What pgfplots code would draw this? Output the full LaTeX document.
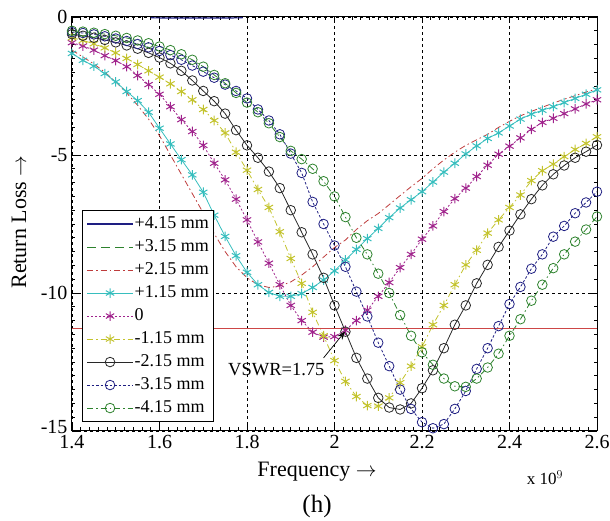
\documentclass[border=0pt]{standalone}
\usepackage{pgfplots}
\pgfplotsset{compat=1.18}
\usepackage{pgfplotstable}
\usepackage{fontspec}
\setmainfont{Liberation Serif}
\usetikzlibrary{arrows.meta}
\definecolor{cyc}{RGB}{55,190,190}
\definecolor{magc}{RGB}{160,35,140}
\definecolor{yelc}{RGB}{195,195,45}
\definecolor{blkc}{RGB}{40,40,40}
\definecolor{navc}{RGB}{30,30,130}
\definecolor{grnc}{RGB}{45,130,45}
\definecolor{redc}{RGB}{190,60,60}
\definecolor{vswr}{RGB}{205,70,70}
\pgfplotstableread{
x red cyan mag yel blk nav grn
1.400 -1.20 -1.32 -0.93 -0.75 -0.62 -0.55 -0.50
1.425 -1.45 -1.57 -1.05 -0.85 -0.68 -0.58 -0.53
1.450 -1.70 -1.78 -1.20 -0.97 -0.75 -0.63 -0.57
1.475 -2.00 -2.05 -1.40 -1.12 -0.83 -0.70 -0.62
1.500 -2.35 -2.35 -1.58 -1.30 -0.92 -0.78 -0.68
1.525 -2.75 -2.70 -1.80 -1.50 -1.03 -0.87 -0.76
1.550 -3.20 -3.03 -2.12 -1.72 -1.15 -0.98 -0.85
1.575 -3.70 -3.45 -2.45 -1.95 -1.30 -1.10 -0.95
1.600 -4.30 -4.03 -2.80 -2.18 -1.47 -1.23 -1.07
1.625 -5.00 -4.60 -3.25 -2.42 -1.68 -1.38 -1.20
1.650 -5.70 -5.17 -3.72 -2.70 -1.95 -1.55 -1.35
1.675 -6.40 -5.72 -4.15 -3.00 -2.30 -1.76 -1.55
1.700 -7.10 -6.35 -4.65 -3.35 -2.68 -1.98 -1.80
1.725 -7.85 -7.18 -5.30 -3.75 -3.05 -2.20 -2.10
1.750 -8.50 -7.95 -5.90 -4.20 -3.50 -2.45 -2.40
1.775 -9.05 -8.65 -6.60 -4.90 -4.10 -2.68 -2.75
1.800 -9.45 -9.25 -7.35 -5.55 -4.65 -2.95 -3.10
1.825 -9.70 -9.70 -8.15 -6.25 -5.10 -3.35 -3.45
1.850 -9.80 -9.98 -8.92 -6.90 -5.60 -3.75 -3.85
1.875 -9.75 -10.12 -9.70 -7.78 -6.20 -4.25 -4.35
1.900 -9.60 -10.12 -10.45 -8.75 -7.00 -4.95 -4.85
1.925 -9.35 -10.02 -11.00 -9.65 -7.80 -5.65 -5.15
1.950 -9.05 -9.80 -11.42 -10.70 -8.60 -6.70 -5.50
1.975 -8.70 -9.53 -11.60 -11.55 -9.45 -7.50 -5.95
2.000 -8.35 -9.20 -11.58 -12.45 -10.45 -8.28 -6.50
2.025 -8.08 -8.80 -11.35 -13.20 -11.40 -9.05 -7.25
2.050 -7.70 -8.42 -11.00 -13.75 -12.35 -9.95 -8.00
2.075 -7.38 -8.03 -10.62 -14.08 -13.10 -10.85 -8.60
2.100 -7.12 -7.66 -10.12 -14.10 -13.80 -11.80 -9.30
2.125 -6.80 -7.27 -9.62 -13.80 -14.15 -12.65 -10.00
2.150 -6.47 -6.92 -9.08 -13.25 -14.22 -13.50 -10.80
2.175 -6.15 -6.62 -8.60 -12.65 -14.00 -14.20 -11.55
2.200 -5.85 -6.33 -8.05 -11.95 -13.45 -14.68 -12.15
2.225 -5.50 -5.98 -7.57 -11.15 -12.80 -14.90 -12.60
2.250 -5.18 -5.62 -7.05 -10.45 -12.00 -14.75 -13.10
2.275 -4.90 -5.30 -6.58 -9.70 -11.15 -14.20 -13.38
2.300 -4.65 -4.96 -6.20 -8.98 -10.45 -13.55 -13.40
2.325 -4.45 -4.67 -5.78 -8.45 -9.65 -12.75 -13.10
2.350 -4.25 -4.40 -5.37 -7.83 -8.98 -12.00 -12.70
2.375 -4.00 -4.20 -4.97 -7.35 -8.33 -11.20 -12.20
2.400 -3.78 -3.95 -4.68 -6.90 -7.74 -10.40 -11.55
2.425 -3.58 -3.70 -4.38 -6.45 -7.15 -9.78 -10.95
2.450 -3.42 -3.52 -4.07 -5.93 -6.60 -9.12 -10.28
2.475 -3.27 -3.38 -3.82 -5.57 -6.10 -8.60 -9.70
2.500 -3.12 -3.25 -3.67 -5.33 -5.70 -7.96 -9.10
2.525 -2.98 -3.10 -3.50 -5.06 -5.38 -7.57 -8.60
2.550 -2.85 -2.95 -3.33 -4.80 -5.10 -7.11 -8.14
2.575 -2.72 -2.80 -3.15 -4.58 -4.88 -6.72 -7.70
2.600 -2.60 -2.64 -3.00 -4.34 -4.64 -6.33 -7.23
}\data
\newcommand{\fs}{\fontsize{20}{22}\selectfont}
\newcommand{\fl}{\fontsize{18}{20}\selectfont}
\newcommand{\fx}{\fontsize{22}{24}\selectfont}
\begin{document}
\begin{tikzpicture}[x=1pt,y=1pt]
\path[use as bounding box] (-72,-90) rectangle (538,431);
\begin{axis}[
  at={(0,0)}, anchor=south west,
  scale only axis, width=525pt, height=414pt,
  xmin=1.4, xmax=2.6, ymin=-15, ymax=0,
  clip=false,
  xtick={1.4,1.6,1.8,2.0,2.2,2.4,2.6},
  xticklabels={1.4,1.6,1.8,2,2.2,2.4,2.6},
  ytick={-15,-10,-5,0},
  yticklabels={\raisebox{9pt}{-15},-10,-5,0},
  minor x tick num=9, minor y tick num=9,
  tick align=inside,
  major tick length=6pt, minor tick length=3.5pt,
  every tick/.style={black, line width=0.6pt},
  grid=major,
  major grid style={black, line width=0.7pt, dash pattern=on 3pt off 3pt},
  axis line style={black, line width=1pt},
  tick label style={font=\fs},
  xticklabel style={yshift=-1pt},
  yticklabel style={xshift=-1pt},
  every axis plot/.append style={line width=0.8pt},
  mark size=4.8pt,
  legend style={at={(10/525,9/414)}, anchor=south west, draw=black, line width=0.9pt, fill=white, font=\fl, row sep=4pt, inner sep=4pt, cells={anchor=west}, nodes={inner sep=1pt, text height=13pt, text depth=4pt}},
  legend image code/.code={\draw[mark repeat=2,mark phase=2,#1] plot coordinates {(0pt,0pt) (23pt,0pt) (46pt,0pt)};},
]
% +4.15 mm (only a short part stays inside the frame)
\addplot[navc, solid, line width=1.2pt] coordinates {(1.58,-0.03) (1.65,-0.04) (1.72,-0.04) (1.79,-0.03)};
\addlegendentry{+4.15 mm}
\addlegendimage{grnc, dash pattern=on 9pt off 5pt}
\addlegendentry{+3.15 mm}
\addplot[redc, dash pattern=on 6pt off 3pt on 1.5pt off 3pt] table[x=x,y=red] {\data};
\addlegendentry{+2.15 mm}
\addplot[cyc, solid, mark=asterisk, mark options={solid, line width=1pt}] table[x=x,y=cyan] {\data};
\addlegendentry{+1.15 mm}
\addplot[magc, dash pattern=on 2pt off 2pt, mark=asterisk, mark options={solid, line width=1pt}] table[x=x,y=mag] {\data};
\addlegendentry{0}
\addplot[yelc, dash pattern=on 6pt off 3pt on 1.5pt off 3pt, mark=asterisk, mark options={solid, line width=1pt}] table[x=x,y=yel] {\data};
\addlegendentry{-1.15 mm}
\addplot[blkc, solid, mark=o, mark options={solid, line width=0.8pt}] table[x=x,y=blk] {\data};
\addlegendentry{-2.15 mm}
\addplot[navc, dash pattern=on 2.5pt off 2pt, mark=o, mark options={solid, line width=0.8pt}] table[x=x,y=nav] {\data};
\addlegendentry{-3.15 mm}
\addplot[grnc, dash pattern=on 6pt off 3pt on 1.5pt off 3pt, mark=o, mark options={solid, line width=0.8pt}] table[x=x,y=grn] {\data};
\addlegendentry{-4.15 mm}
\addplot[vswr, line width=0.8pt, forget plot] coordinates {(1.4,-11.29) (2.6,-11.29)};
\node[font=\fontsize{18.5}{20}\selectfont, anchor=center] at (axis cs:1.867,-12.78) {VSWR=1.75};
\draw[-{Stealth[length=9pt,width=6pt]}, black, line width=0.7pt] (axis cs:1.975,-12.35) -- (axis cs:2.025,-11.38);
\end{axis}
\node[font=\fx, rotate=90] at (-53,209) {Return Loss $\rightarrow$};
\node[font=\fx] at (245,-41) {Frequency $\rightarrow$};
\node[font=\fontsize{17}{19}\selectfont] at (473,-47) {x 10$^{9}$};
\node[font=\fontsize{25}{27}\selectfont] at (245,-75) {(h)};
\end{tikzpicture}
\end{document}
